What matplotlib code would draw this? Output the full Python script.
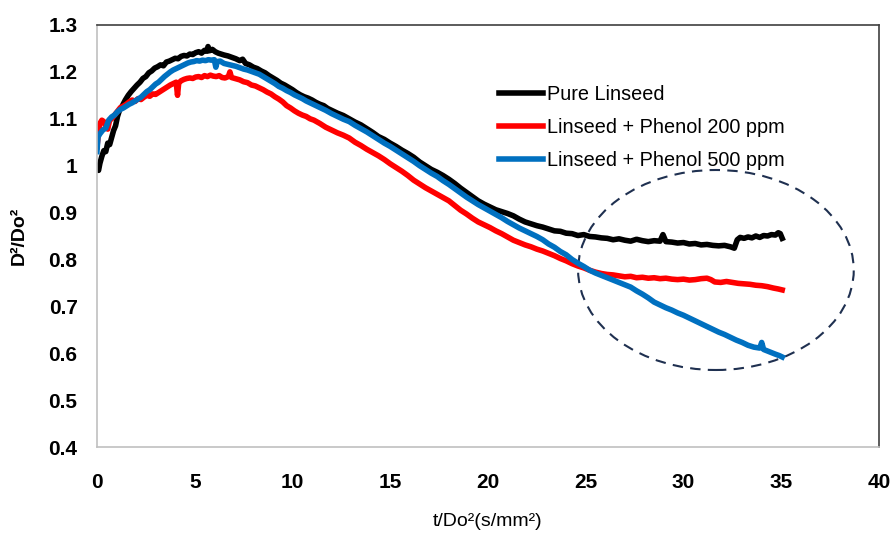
import matplotlib
matplotlib.use("Agg")
import matplotlib.pyplot as plt
from matplotlib.patches import Ellipse

plt.rcParams['font.family'] = ['Liberation Sans', 'DejaVu Sans']

# droplet squared diameter history, t/Do^2 vs D^2/Do^2
pure_t = [0.0, 0.08, 0.15, 0.25, 0.35, 0.45, 0.55, 0.65, 0.75, 0.85, 0.95, 1.05, 1.15,
          1.3, 1.45, 1.6, 1.75, 1.9, 2.05, 2.2, 2.35, 2.5, 2.65, 2.8, 2.95, 3.1, 3.25,
          3.4, 3.55, 3.7, 3.85, 4.0, 4.15, 4.3, 4.45, 4.6, 4.75, 4.9, 5.05, 5.2, 5.35,
          5.5, 5.62, 5.68, 5.75, 5.9, 6.05, 6.2, 6.35, 6.5, 6.7, 6.9, 7.1, 7.3, 7.45,
          7.6, 7.8, 8.0, 8.2, 8.4, 8.6, 8.8, 9.0, 9.2, 9.4, 9.6, 9.8, 10.0, 10.2, 10.4,
          10.6, 10.8, 11.0, 11.2, 11.4, 11.6, 11.8, 12.0, 12.3, 12.6, 12.9, 13.2, 13.5,
          13.8, 14.1, 14.4, 14.7, 15.0, 15.3, 15.6, 15.9, 16.2, 16.5, 16.8, 17.1, 17.4,
          17.7, 18.0, 18.3, 18.6, 18.9, 19.2, 19.5, 19.8, 20.1, 20.4, 20.7, 21.0, 21.3,
          21.6, 21.9, 22.2, 22.5, 22.8, 23.1, 23.4, 23.7, 24.0, 24.3, 24.6, 24.9, 25.2,
          25.5, 25.8, 26.1, 26.4, 26.7, 27.0, 27.3, 27.6, 27.9, 28.2, 28.5, 28.8, 28.95,
          29.1, 29.4, 29.7, 30.0, 30.3, 30.6, 30.9, 31.2, 31.5, 31.8, 32.1, 32.4, 32.6,
          32.75, 32.9, 33.1, 33.3, 33.5, 33.7, 33.9, 34.1, 34.3, 34.5, 34.7, 34.85, 34.95,
          35.05]
pure_d = [0.995, 0.99, 1.005, 1.02, 1.032, 1.03, 1.048, 1.045, 1.06, 1.075, 1.085, 1.105,
          1.118, 1.128, 1.14, 1.15, 1.158, 1.165, 1.172, 1.178, 1.186, 1.19, 1.198, 1.202,
          1.208, 1.211, 1.215, 1.213, 1.221, 1.223, 1.226, 1.229, 1.228, 1.233, 1.235,
          1.234, 1.238, 1.237, 1.241, 1.243, 1.24, 1.246, 1.244, 1.254, 1.245, 1.248,
          1.243, 1.24, 1.238, 1.236, 1.234, 1.231, 1.228, 1.224, 1.227, 1.218, 1.215,
          1.21, 1.207, 1.202, 1.198, 1.192, 1.187, 1.182, 1.176, 1.172, 1.167, 1.162,
          1.156, 1.151, 1.147, 1.144, 1.14, 1.135, 1.131, 1.128, 1.122, 1.118, 1.112,
          1.107, 1.1, 1.093, 1.087, 1.079, 1.071, 1.062, 1.056, 1.048, 1.041, 1.033, 1.026,
          1.018, 1.008, 1.0, 0.992, 0.986, 0.979, 0.971, 0.962, 0.952, 0.943, 0.934, 0.925,
          0.918, 0.912, 0.906, 0.902, 0.898, 0.893, 0.886, 0.88, 0.876, 0.872, 0.869, 0.865,
          0.861, 0.86, 0.856, 0.855, 0.851, 0.853, 0.849, 0.848, 0.846, 0.845, 0.842,
          0.844, 0.841, 0.839, 0.843, 0.84, 0.838, 0.84, 0.839, 0.853, 0.838, 0.837,
          0.835, 0.836, 0.833, 0.834, 0.831, 0.832, 0.83, 0.829, 0.83, 0.827, 0.824,
          0.842, 0.847, 0.845, 0.848, 0.846, 0.85, 0.847, 0.851, 0.85, 0.853, 0.852,
          0.857, 0.855, 0.845]

p200_t = [0.0, 0.08, 0.15, 0.25, 0.35, 0.45, 0.55, 0.65, 0.75, 0.9, 1.05, 1.2, 1.35,
          1.5, 1.65, 1.8, 1.95, 2.1, 2.25, 2.4, 2.55, 2.7, 2.85, 3.0, 3.15, 3.3, 3.45,
          3.6, 3.75, 3.9, 4.05, 4.12, 4.18, 4.3, 4.45, 4.6, 4.75, 4.9, 5.05, 5.2, 5.35,
          5.5, 5.65, 5.8, 5.95, 6.1, 6.25, 6.4, 6.55, 6.72, 6.8, 6.88, 7.05, 7.3, 7.5,
          7.7, 7.9, 8.1, 8.3, 8.5, 8.7, 8.9, 9.1, 9.3, 9.5, 9.7, 9.9, 10.1, 10.3, 10.5,
          10.7, 10.9, 11.1, 11.4, 11.7, 12.0, 12.3, 12.6, 12.9, 13.2, 13.5, 13.8, 14.1,
          14.4, 14.7, 15.0, 15.3, 15.6, 15.9, 16.2, 16.5, 16.8, 17.1, 17.4, 17.7, 18.0,
          18.3, 18.6, 18.9, 19.2, 19.5, 19.8, 20.1, 20.4, 20.7, 21.0, 21.3, 21.6, 21.9,
          22.2, 22.5, 22.8, 23.1, 23.4, 23.7, 24.0, 24.3, 24.6, 24.9, 25.2, 25.5, 25.8,
          26.1, 26.4, 26.7, 27.0, 27.3, 27.6, 27.9, 28.2, 28.5, 28.8, 29.1, 29.4, 29.7,
          30.0, 30.3, 30.6, 30.9, 31.2, 31.4, 31.6, 31.9, 32.2, 32.5, 32.8, 33.1, 33.4,
          33.7, 34.0, 34.3, 34.6, 34.85, 35.05]
p200_d = [1.04, 1.07, 1.09, 1.097, 1.094, 1.085, 1.078, 1.098, 1.1, 1.108, 1.116, 1.124,
          1.127, 1.131, 1.136, 1.14, 1.137, 1.143, 1.141, 1.146, 1.15, 1.148, 1.153, 1.152,
          1.156, 1.16, 1.164, 1.168, 1.172, 1.175, 1.178, 1.15, 1.176, 1.181, 1.184, 1.186,
          1.187, 1.186, 1.189, 1.19, 1.188, 1.192, 1.19, 1.193, 1.191, 1.19, 1.192, 1.188,
          1.187, 1.19, 1.2, 1.188, 1.186, 1.183, 1.179, 1.177, 1.172, 1.17, 1.166, 1.162,
          1.157, 1.153, 1.147, 1.142, 1.136, 1.128, 1.123, 1.117, 1.112, 1.108, 1.105, 1.1,
          1.097, 1.09, 1.082, 1.076, 1.07, 1.065, 1.059, 1.05, 1.043, 1.035, 1.028, 1.021,
          1.013, 1.004, 0.996, 0.988, 0.979, 0.969, 0.961, 0.953, 0.946, 0.939, 0.932,
          0.925, 0.915, 0.905, 0.897, 0.888, 0.88, 0.874, 0.868, 0.861, 0.855, 0.848,
          0.841, 0.836, 0.831, 0.827, 0.822, 0.818, 0.813, 0.808, 0.802, 0.797, 0.791,
          0.786, 0.782, 0.777, 0.773, 0.77, 0.768, 0.767, 0.765, 0.763, 0.764, 0.761,
          0.762, 0.76, 0.761, 0.759, 0.76, 0.758, 0.757, 0.758, 0.756, 0.757, 0.759, 0.76,
          0.757, 0.752, 0.751, 0.753, 0.751, 0.749, 0.748, 0.747, 0.745, 0.744, 0.742,
          0.739, 0.737, 0.735]

p500_t = [0.0, 0.05, 0.15, 0.3, 0.45, 0.6, 0.75, 0.9, 1.05, 1.2, 1.35, 1.5, 1.65, 1.8,
          1.95, 2.1, 2.25, 2.4, 2.55, 2.7, 2.85, 3.0, 3.15, 3.3, 3.45, 3.6, 3.75, 3.9,
          4.05, 4.2, 4.35, 4.5, 4.65, 4.8, 4.95, 5.1, 5.25, 5.4, 5.55, 5.7, 5.85, 6.0,
          6.08, 6.15, 6.3, 6.5, 6.7, 6.9, 7.1, 7.3, 7.5, 7.7, 7.9, 8.1, 8.3, 8.5, 8.7,
          8.9, 9.1, 9.3, 9.5, 9.7, 9.9, 10.1, 10.3, 10.5, 10.7, 10.9, 11.1, 11.4, 11.7,
          12.0, 12.3, 12.6, 12.9, 13.2, 13.5, 13.8, 14.1, 14.4, 14.7, 15.0, 15.3, 15.6,
          15.9, 16.2, 16.5, 16.8, 17.1, 17.4, 17.7, 18.0, 18.3, 18.6, 18.9, 19.2, 19.5,
          19.8, 20.1, 20.4, 20.7, 21.0, 21.3, 21.6, 21.9, 22.2, 22.5, 22.8, 23.1, 23.4,
          23.7, 24.0, 24.3, 24.6, 24.9, 25.2, 25.5, 25.8, 26.1, 26.4, 26.7, 27.0, 27.3,
          27.6, 27.9, 28.2, 28.5, 28.8, 29.1, 29.4, 29.7, 30.0, 30.3, 30.6, 30.9, 31.2,
          31.5, 31.8, 32.1, 32.4, 32.7, 33.0, 33.3, 33.6, 33.9, 34.0, 34.1, 34.4, 34.7,
          34.9, 35.05]
p500_d = [1.03, 1.061, 1.068, 1.076, 1.08, 1.097, 1.104, 1.108, 1.115, 1.12, 1.123,
          1.127, 1.131, 1.134, 1.138, 1.142, 1.146, 1.152, 1.158, 1.162, 1.168, 1.174,
          1.178, 1.184, 1.19, 1.195, 1.2, 1.204, 1.207, 1.21, 1.213, 1.216, 1.219, 1.221,
          1.222, 1.224, 1.223, 1.225, 1.224, 1.226, 1.225, 1.226, 1.21, 1.222, 1.223,
          1.218, 1.216, 1.214, 1.212, 1.209, 1.206, 1.204, 1.201, 1.198, 1.195, 1.19,
          1.185, 1.18, 1.175, 1.169, 1.165, 1.16, 1.156, 1.151, 1.147, 1.143, 1.138,
          1.134, 1.13, 1.124, 1.118, 1.111, 1.105, 1.099, 1.094, 1.086, 1.079, 1.072,
          1.064, 1.056, 1.048, 1.041, 1.033, 1.025, 1.017, 1.009, 1.0, 0.992, 0.984,
          0.977, 0.968, 0.96, 0.951, 0.942, 0.933, 0.925, 0.917, 0.91, 0.903, 0.896,
          0.889, 0.881, 0.874, 0.867, 0.861, 0.855, 0.849, 0.842, 0.833, 0.826, 0.817,
          0.81, 0.8, 0.792, 0.785, 0.777, 0.771, 0.766, 0.761, 0.756, 0.751, 0.746,
          0.741, 0.733, 0.726, 0.718, 0.709, 0.703, 0.697, 0.692, 0.686, 0.681, 0.675,
          0.669, 0.663, 0.657, 0.651, 0.645, 0.64, 0.634, 0.628, 0.623, 0.617, 0.613,
          0.611, 0.623, 0.608, 0.603, 0.598, 0.595, 0.592]

labels = ['Pure Linseed', 'Linseed + Phenol 200 ppm', 'Linseed + Phenol 500 ppm']
colors = ['#000000', '#ff0000', '#0070c0']

fig = plt.figure(figsize=(8.93, 5.34), dpi=100)
ax = fig.add_axes([0.1086, 0.1629, 0.8757, 0.7903])

for t, d, lab, c in zip([pure_t, p200_t, p500_t], [pure_d, p200_d, p500_d], labels, colors):
    ax.plot(t, d, color=c, lw=4.0, label=lab, solid_joinstyle='round')

# highlight the late-stage divergence
ell = Ellipse((31.66, 0.7775), 14.1, 0.4265, fill=False, edgecolor='#1f3050',
              lw=1.5, linestyle=(0, (5, 3.5)))
ax.add_patch(ell)

ax.set_xlim(0, 40)
ax.set_ylim(0.4, 1.3)
ax.set_xticks(range(0, 41, 5))
ax.set_yticks([0.4, 0.5, 0.6, 0.7, 0.8, 0.9, 1.0, 1.1, 1.2, 1.3])
ax.set_yticklabels(['0.4', '0.5', '0.6', '0.7', '0.8', '0.9', '1', '1.1', '1.2', '1.3'])
ax.tick_params(axis='both', length=0, labelsize=15)
ax.tick_params(axis='y', pad=14)
ax.tick_params(axis='x', pad=19)
for lbl in ax.get_xticklabels() + ax.get_yticklabels():
    lbl.set_fontweight('bold')

ax.spines['left'].set_color('#c0c0c0')
ax.spines['bottom'].set_color('#c0c0c0')
ax.spines['top'].set_color('#404040')
ax.spines['right'].set_color('#404040')
for s in ax.spines.values():
    s.set_linewidth(1.2)

ax.set_xlabel('t/Do²(s/mm²)', fontsize=14, labelpad=15)
ax.set_ylabel('D²/Do²', fontsize=14, fontweight='bold', labelpad=15)

ax.legend(loc='upper left', bbox_to_anchor=(0.504, 0.877), frameon=False, fontsize=14.3,
          handlelength=2.2, handletextpad=0.2, labelspacing=0.7, borderaxespad=0)

fig.savefig('out.png', dpi=100)
